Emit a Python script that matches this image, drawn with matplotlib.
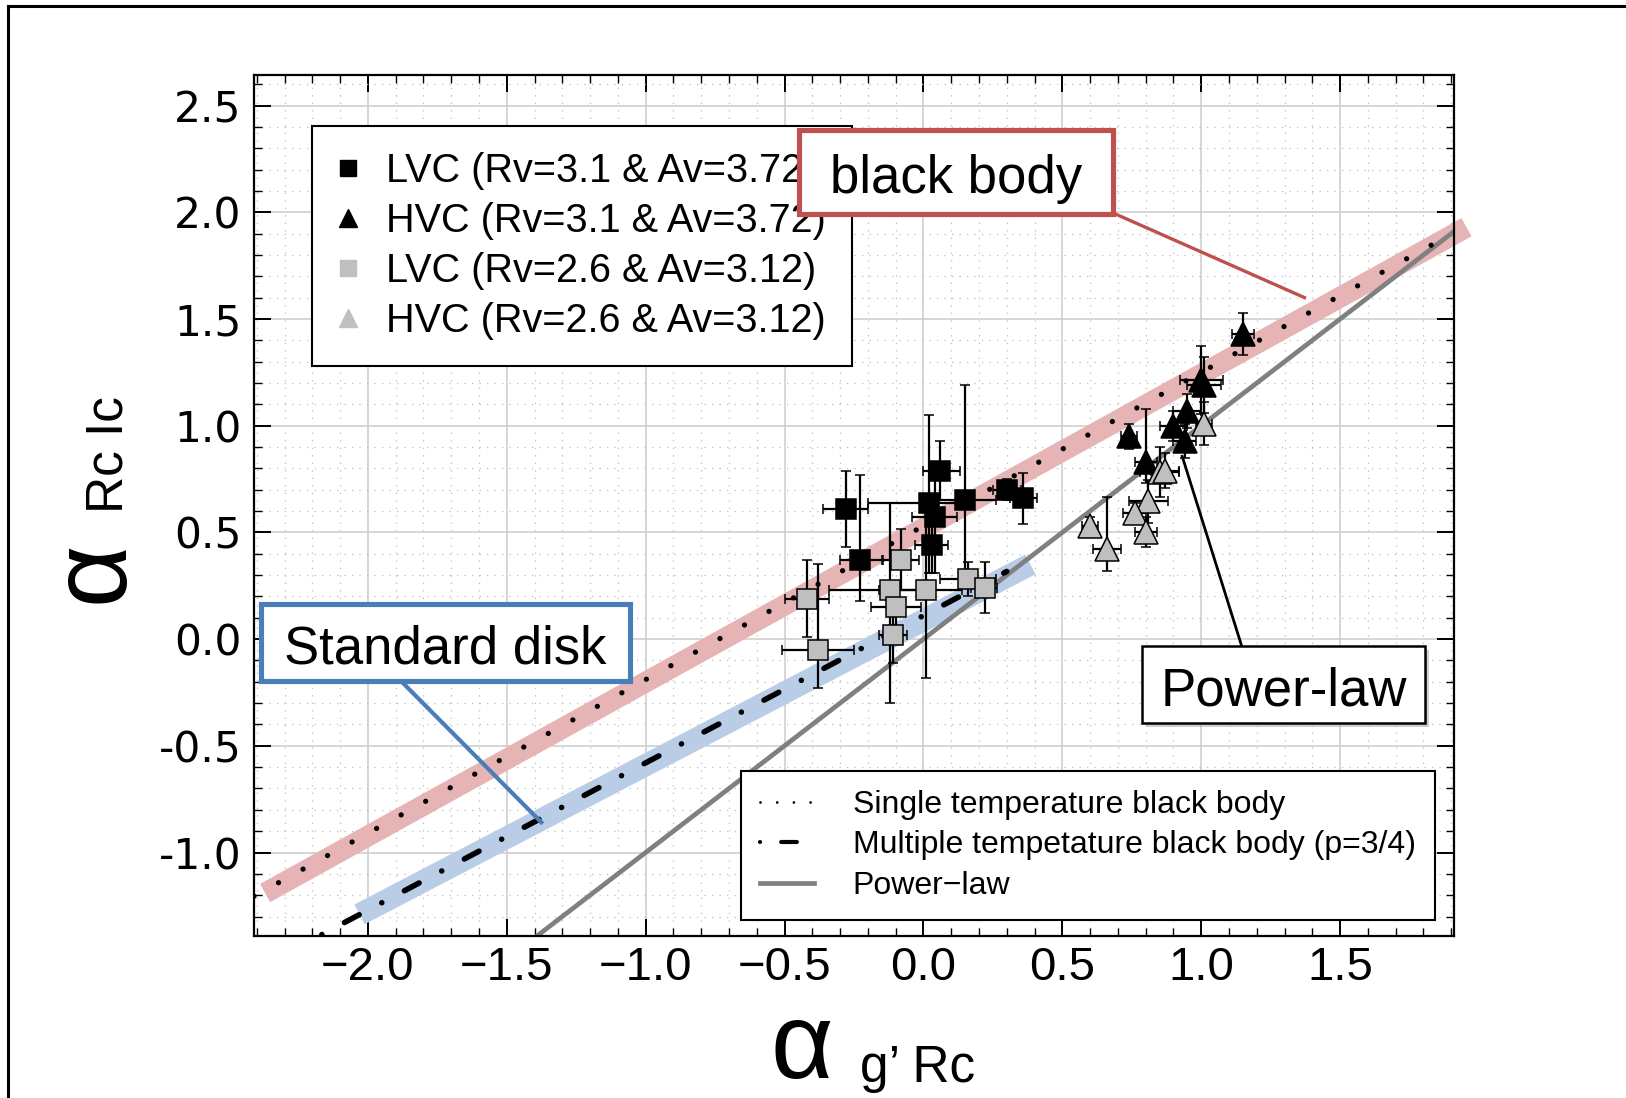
import numpy as np
import matplotlib
matplotlib.use("Agg")
import matplotlib.pyplot as plt
from matplotlib.lines import Line2D
from matplotlib.patches import Rectangle
from matplotlib.ticker import MultipleLocator
from matplotlib.font_manager import FontProperties

plt.rcParams["axes.unicode_minus"] = False

W, H = 1626, 1098
SANS = "Liberation Sans"

# ---------------- data ----------------
# LVC (Rv=3.1 & Av=3.72): black squares
lvc31_x = np.array([-0.28, -0.23, 0.06, 0.02, 0.04, 0.03, 0.15, 0.30, 0.36])
lvc31_y = np.array([0.61, 0.37, 0.79, 0.64, 0.57, 0.44, 0.65, 0.70, 0.66])
lvc31_xlo = np.array([0.08, 0.07, 0.06, 0.22, 0.08, 0.06, 0.12, 0.05, 0.05])
lvc31_xhi = np.array([0.08, 0.08, 0.07, 0.10, 0.08, 0.06, 0.11, 0.05, 0.05])
lvc31_ylo = np.array([0.18, 0.19, 0.14, 0.33, 0.26, 0.13, 0.37, 0.05, 0.12])
lvc31_yhi = np.array([0.18, 0.40, 0.14, 0.41, 0.26, 0.13, 0.54, 0.05, 0.12])

# HVC (Rv=3.1 & Av=3.72): black triangles
hvc31_x = np.array([0.74, 0.80, 0.95, 0.90, 0.94, 1.15, 1.00, 1.01])
hvc31_y = np.array([0.95, 0.83, 1.07, 1.00, 0.93, 1.43, 1.215, 1.19])
hvc31_xerr = np.array([0.03, 0.04, 0.05, 0.05, 0.04, 0.04, 0.078, 0.06])
hvc31_ylo = np.array([0.06, 0.10, 0.08, 0.07, 0.08, 0.10, 0.16, 0.13])
hvc31_yhi = np.array([0.06, 0.25, 0.08, 0.07, 0.08, 0.10, 0.16, 0.13])

# LVC (Rv=2.6 & Av=3.12): grey squares
lvc26_x = np.array([-0.42, -0.38, -0.08, -0.12, -0.10, -0.11, 0.01, 0.16, 0.22])
lvc26_y = np.array([0.19, -0.05, 0.37, 0.23, 0.15, 0.02, 0.23, 0.28, 0.24])
lvc26_xlo = np.array([0.08, 0.13, 0.065, 0.22, 0.09, 0.05, 0.17, 0.10, 0.05])
lvc26_xhi = np.array([0.08, 0.13, 0.065, 0.10, 0.09, 0.05, 0.13, 0.10, 0.045])
lvc26_ylo = np.array([0.18, 0.18, 0.14, 0.53, 0.10, 0.13, 0.41, 0.08, 0.12])
lvc26_yhi = np.array([0.18, 0.40, 0.145, 0.41, 0.10, 0.13, 0.41, 0.08, 0.12])

# HVC (Rv=2.6 & Av=3.12): grey triangles
hvc26_x = np.array([0.85, 0.87, 0.81, 0.76, 0.80, 0.60, 0.66, 1.01])
hvc26_y = np.array([0.785, 0.79, 0.645, 0.59, 0.50, 0.53, 0.42, 1.01])
hvc26_xerr = np.array([0.07, 0.05, 0.07, 0.04, 0.04, 0.03, 0.05, 0.03])
hvc26_ylo = np.array([0.117, 0.08, 0.10, 0.05, 0.07, 0.04, 0.10, 0.10])
hvc26_yhi = np.array([0.117, 0.08, 0.10, 0.05, 0.07, 0.04, 0.245, 0.10])

# model lines (end points)
bb_x = [-2.41, 1.91]        # single temperature black body
bb_y = [-1.205, 1.905]
bb_band_x = [-2.37, 1.955]
bb_band_y = [-1.19, 1.93]
md_x = [-2.30, 0.30]        # multiple temperature black body (p=3/4)
md_y = [-1.477, 0.317]
md_band_x = [-2.03, 0.385]
md_band_y = [-1.29, 0.35]
pl_x = [-2.41, 1.91]        # power-law
pl_y = [-2.41, 1.91]

xticks = [-2.0, -1.5, -1.0, -0.5, 0.0, 0.5, 1.0, 1.5]
xticklabels = ["\u22122.0", "\u22121.5", "\u22121.0", "\u22120.5", "0.0", "0.5", "1.0", "1.5"]
yticks = [-1.0, -0.5, 0.0, 0.5, 1.0, 1.5, 2.0, 2.5]
yticklabels = ["-1.0", "-0.5", "0.0", "0.5", "1.0", "1.5", "2.0", "2.5"]

marker_labels = ["LVC (Rv=3.1 & Av=3.72)", "HVC (Rv=3.1 & Av=3.72)",
                 "LVC (Rv=2.6 & Av=3.12)", "HVC (Rv=2.6 & Av=3.12)"]
line_labels = ["Single temperature black body",
               "Multiple tempetature black body (p=3/4)",
               "Power\u2212law"]

GREY = "#bfbfbf"
PINK = "#e6b4b4"
BLUE = "#b9cde6"
RED_EDGE = "#c0504d"
BLUE_EDGE = "#4a7ebb"


def fx(px):
    return px / W


def fy(py):
    return 1 - py / H


fig = plt.figure(figsize=(W / 100, H / 100), dpi=100)
ax = fig.add_axes([0.1562, 0.1472, 0.738, 0.7848])

# bands and model lines
ax.plot(bb_band_x, bb_band_y, color=PINK, lw=15, solid_capstyle="butt", zorder=1.5, clip_on=False)
ax.plot(md_band_x, md_band_y, color=BLUE, lw=16, solid_capstyle="butt", zorder=1.5)
ax.plot(pl_x, pl_y, color="#808080", lw=3.4, zorder=2)
ax.plot(bb_x, bb_y, color="black", lw=3.8, ls=(0, (0.01, 5.3)), dash_capstyle="round", zorder=2.2)
ax.plot(md_x, md_y, color="black", lw=4, ls=(0, (3.0, 4.6, 0.01, 4.6)),
        dash_capstyle="round", zorder=2.2)

eb = dict(ecolor="black", elinewidth=1.6, capsize=3.6, capthick=1.6, mec="black", mew=1.1,
          ls="none", zorder=4)
ax.errorbar(lvc31_x, lvc31_y, xerr=[lvc31_xlo, lvc31_xhi], yerr=[lvc31_ylo, lvc31_yhi],
            marker="s", ms=14.4, mfc="black", **eb)
ax.errorbar(hvc31_x, hvc31_y, xerr=hvc31_xerr, yerr=[hvc31_ylo, hvc31_yhi],
            marker="^", ms=17, mfc="black", **eb)
ax.errorbar(lvc26_x, lvc26_y, xerr=[lvc26_xlo, lvc26_xhi], yerr=[lvc26_ylo, lvc26_yhi],
            marker="s", ms=14.4, mfc=GREY, **eb)
ax.errorbar(hvc26_x, hvc26_y, xerr=hvc26_xerr, yerr=[hvc26_ylo, hvc26_yhi],
            marker="^", ms=17, mfc=GREY, **eb)

ax.set_xlim(-2.41, 1.91)
ax.set_ylim(-1.393, 2.645)
ax.set_xticks(xticks, labels=xticklabels, fontfamily=SANS, fontsize=34)
ax.set_yticks(yticks, labels=yticklabels, fontfamily="DejaVu Sans", fontsize=30.5)
ax.xaxis.set_minor_locator(MultipleLocator(0.1))
ax.yaxis.set_minor_locator(MultipleLocator(0.1))
ax.tick_params(which="both", direction="in", top=True, right=True)
ax.tick_params(which="major", length=12, width=1.4)
ax.tick_params(which="minor", length=6, width=1.0)
ax.tick_params(axis="x", which="major", pad=7)
ax.tick_params(axis="y", which="major", pad=9)
ax.set_axisbelow(True)
ax.grid(which="major", color="#cccccc", lw=1.1)
ax.grid(which="minor", color="#bdbdbd", lw=0.9, ls=(0, (1, 5)))
for s in ax.spines.values():
    s.set_linewidth(1.6)

# legend with the data markers
mk_handles = [
    Line2D([], [], ls="none", marker="s", ms=12, mfc="black", mec="black"),
    Line2D([], [], ls="none", marker="^", ms=13, mfc="black", mec="black"),
    Line2D([], [], ls="none", marker="s", ms=12, mfc=GREY, mec=GREY),
    Line2D([], [], ls="none", marker="^", ms=13, mfc=GREY, mec=GREY),
]
leg1 = ax.legend(mk_handles, marker_labels, loc="upper left", bbox_to_anchor=(0.0483, 0.9399),
                 borderaxespad=0, prop=FontProperties(family=SANS, size=28.5), fancybox=False,
                 edgecolor="black", framealpha=1, handlelength=0.54, handletextpad=0.68,
                 borderpad=0.65, labelspacing=0.3, numpoints=1)
leg1.get_frame().set_linewidth(1.5)
ax.add_artist(leg1)

# legend with the model lines
ln_handles = [
    Line2D([], [], color="black", lw=2, ls=(0, (0.01, 6)), dash_capstyle="round"),
    Line2D([], [], color="black", lw=3, ls=(0, (0.01, 5.07, 3.77, 4.4)), dash_capstyle="round"),
    Line2D([], [], color="#808080", lw=3.4),
]
leg2 = ax.legend(ln_handles, line_labels, loc="lower right", bbox_to_anchor=(0.984, 0.019),
                 borderaxespad=0, prop=FontProperties(family=SANS, size=23), fancybox=False,
                 edgecolor="black", framealpha=1, handlelength=1.7, handletextpad=1.2,
                 borderpad=0.6, labelspacing=0.33)
leg2.get_frame().set_linewidth(1.5)

# axis labels: big alpha with a subscript
fig.text(fx(770), fy(1078), "\u03b1", fontsize=78, family=SANS, ha="left", va="baseline")
fig.text(fx(860), fy(1082), "g\u2019 Rc", fontsize=37, family=SANS, ha="left", va="baseline")
fig.text(fx(123), fy(603), "\u03b1", fontsize=78, family=SANS, rotation=90,
         rotation_mode="anchor", ha="left", va="baseline")
fig.text(fx(122), fy(513), "Rc Ic", fontsize=37, family=SANS, rotation=90,
         rotation_mode="anchor", ha="left", va="baseline")


# call-out boxes drawn over the figure
def callout(x0, y0, x1, y1, text, tx, ty, ec, lw, line, line_lw, shadow=False):
    fig.add_artist(Line2D([fx(line[0]), fx(line[2])], [fy(line[1]), fy(line[3])],
                          transform=fig.transFigure, color=ec, lw=line_lw, zorder=4))
    if shadow:
        fig.add_artist(Rectangle((fx(x0 + 4), fy(y1 + 4)), fx(x1) - fx(x0), fy(y0) - fy(y1),
                                 transform=fig.transFigure, fc="#b0b0b0", ec="none",
                                 alpha=0.6, zorder=4.5))
    fig.add_artist(Rectangle((fx(x0), fy(y1)), fx(x1) - fx(x0), fy(y0) - fy(y1),
                             transform=fig.transFigure, fc="white", ec=ec, lw=lw, zorder=5))
    fig.text(fx(tx), fy(ty), text, fontsize=38, family=SANS, ha="center", va="baseline", zorder=6)


callout(798.5, 129.6, 1112.7, 213.6, "black body", 955.6, 193, RED_EDGE, 3.7,
        (1107.5, 210.5, 1304.5, 297.6), 2.4)
callout(261.3, 603.5, 629.5, 681.3, "Standard disk", 445.4, 664, BLUE_EDGE, 3.7,
        (399.2, 679.2, 541.3, 822.3), 3.0)
callout(1141.7, 646, 1424.8, 722.8, "Power-law", 1284, 705, "black", 1.8,
        (1242.3, 648, 1182.2, 456.3), 2.0, shadow=True)

# frame lines of the original page (top and left only)
fig.add_artist(Line2D([fx(8), 1], [fy(6), fy(6)], transform=fig.transFigure, color="black", lw=2.2))
fig.add_artist(Line2D([fx(8), fx(8)], [fy(6), 0], transform=fig.transFigure, color="black", lw=2.2))

fig.savefig("out.png", dpi=100)
